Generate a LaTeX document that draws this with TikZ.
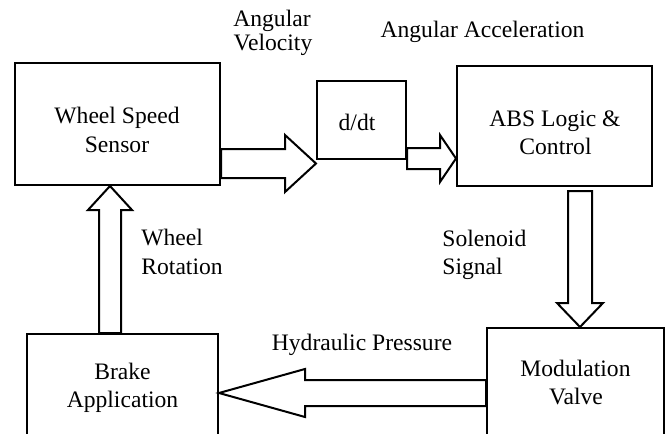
\documentclass[tikz,border=0pt]{standalone}
\usepackage{fontspec}
\setmainfont{Liberation Serif}
\usetikzlibrary{calc}
\begin{document}
\begin{tikzpicture}[x=0.5pt,y=-0.5pt,
  box/.style={draw,line width=1pt,inner sep=0pt},
  blk/.style={draw,line width=1pt,fill=white,line join=miter},
  txt/.style={font=\fontsize{11.8}{14}\selectfont,inner sep=0pt,anchor=base},
  ltxt/.style={txt,anchor=base west}]
\useasboundingbox (0,0) rectangle (666,434);
\clip (0,0) rectangle (666,434);
% boxes
\node[box,minimum width=102.5pt,minimum height=61pt] (wss) at (117.5,124) {};
\node[box,minimum width=44.5pt,minimum height=39pt] (ddt) at (361.5,120) {};
\node[box,minimum width=97.5pt,minimum height=60pt] (abs) at (554.5,126) {};
\node[box,minimum width=88.5pt,minimum height=55pt] (mod) at (575.5,383) {};
\node[box,minimum width=95.5pt,minimum height=52pt] (brk) at (122.5,386) {};
% helper coordinates for arrow centre lines
\coordinate (r1) at (0,163.5);
\coordinate (r2) at (0,158.5);
\coordinate (c3) at (580,0);
\coordinate (r4) at (0,393);
\coordinate (c5) at (110,0);
% block arrows
\draw[blk] ($(wss.east|-r1)+(0,-14.5)$) -- (285,149) -- (285,135) -- (ddt.west|-r1)
  -- (285,192) -- (285,178) -- ($(wss.east|-r1)+(0,14.5)$) -- cycle;
\draw[blk] ($(ddt.east|-r2)+(0,-10.5)$) -- (440,148) -- (440,135) -- (abs.west|-r2)
  -- (440,182) -- (440,169) -- ($(ddt.east|-r2)+(0,10.5)$) -- cycle;
\draw[blk] ($(abs.south-|c3)+(-12,4)$) -- (568,303) -- (557,303) -- (mod.north-|c3)
  -- (603,303) -- (592,303) -- ($(abs.south-|c3)+(12,4)$) -- cycle;
\draw[blk] ($(mod.west|-r4)+(0,-13)$) -- (305,380) -- (305,369) -- (brk.east|-r4)
  -- (305,417) -- (305,406) -- ($(mod.west|-r4)+(0,13)$) -- cycle;
\draw[blk] ($(brk.north-|c5)+(-11,0)$) -- (99,210) -- (88,210) -- (wss.south-|c5)
  -- (132,210) -- (121,210) -- ($(brk.north-|c5)+(11,0)$) -- cycle;
% texts
\node[txt] (t1) at (117,123) {Wheel Speed};
\node[txt] (t2) at (117,152) {Sensor};
\node[txt] (t3) at (357,130) {d/dt};
\node[txt] (t4) at (555,126) {ABS Logic \&};
\node[txt] (t5) at (555.5,154) {Control};
\node[txt] (t6) at (575.5,376) {Modulation};
\node[txt] (t7) at (576,404) {Valve};
\node[txt] (t8) at (122.5,379) {Brake};
\node[txt] (t9) at (122.5,407) {Application};
\node[txt] (t10) at (362,350) {Hydraulic Pressure};
\node[txt] (t11) at (272,26) {Angular};
\node[txt] (t12) at (273,50) {Velocity};
\node[txt] (t13) at (482.5,37) {Angular Acceleration};
\node[ltxt] (t14) at (141,245) {Wheel};
\node[ltxt] (t15) at (141,274) {Rotation};
\node[ltxt] (t16) at (442,246) {Solenoid};
\node[ltxt] (t17) at (442,274) {Signal};
\end{tikzpicture}
\end{document}
